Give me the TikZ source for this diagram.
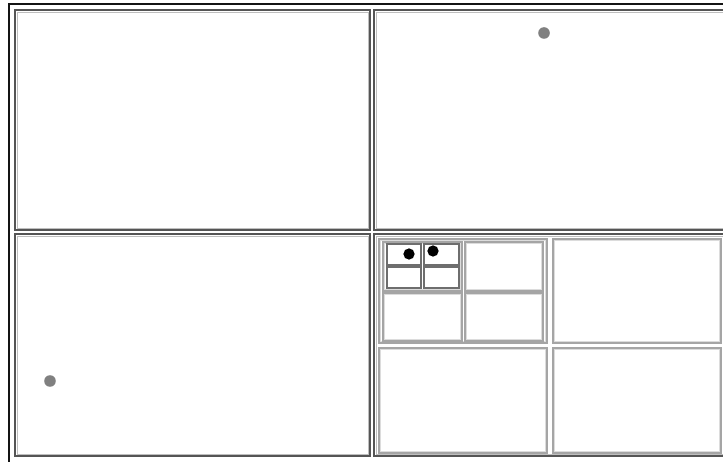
\documentclass[tikz,border=0pt]{standalone}
\usepackage{tikz}
\usepackage{xcolor}
\definecolor{frameblack}{RGB}{20, 20, 20}
\definecolor{paneedge}{RGB}{85, 85, 85}
\definecolor{panelight}{RGB}{190, 190, 190}
\definecolor{subedge}{RGB}{165, 165, 165}
\definecolor{sublight}{RGB}{220, 220, 220}
\definecolor{celledge}{RGB}{110, 110, 110}
\definecolor{dotgray}{RGB}{128, 128, 128}
\tikzset{
  frame/.style={draw=frameblack, line width=1.2pt},
  pane/.style={draw=paneedge, line width=1.1pt},
  paneinner/.style={draw=panelight, line width=0.5pt},
  subpane/.style={draw=subedge, line width=0.8pt},
  subinner/.style={draw=sublight, line width=0.5pt},
  cell/.style={draw=celledge, line width=0.7pt},
}

\begin{document}
\begin{tikzpicture}[x=0.02cm, y=-0.02cm]
        \useasboundingbox (0, 0) rectangle (723, 462);
        \clip (0, 0) rectangle (723, 462);

        % ---- OUTER FRAME ----
        \draw[frame] (9, 4) rectangle (745, 480);

        % ---- FOUR MAIN PANES ----
        \foreach \xa/\ya/\xb/\yb in {15/10/370/230, 374/10/745/230,
                                     15/234/370/456, 374/234/745/456} {
          \draw[pane] (\xa, \ya) rectangle (\xb, \yb);
          \draw[paneinner] (\xa+2, \ya+2) rectangle (\xb-2, \yb-2);
        }

        % ---- SPLIT PANE (bottom right) ----
        \foreach \xa/\ya/\xb/\yb in {379/239/547/343, 553/239/721/343,
                                     379/348/547/453, 553/348/721/453,
                                     383/242/462/291, 465/242/543/291,
                                     383/293/462/341, 465/293/543/341} {
          \draw[subpane] (\xa, \ya) rectangle (\xb, \yb);
          \draw[subinner] (\xa+1.6, \ya+1.6) rectangle (\xb-1.6, \yb-1.6);
        }

        % small cells
        \foreach \xa/\ya/\xb/\yb in {387/244/421/265, 424/244/459/265,
                                     387/267/421/288, 424/267/459/288} {
          \draw[cell] (\xa, \ya) rectangle (\xb, \yb);
        }

        % ---- DOTS ----
        \fill[dotgray] (544, 33) circle (3.3pt);
        \fill[dotgray] (50, 381) circle (3.3pt);
        \fill[black] (409, 254) circle (3.2pt);
        \fill[black] (433, 251) circle (3.2pt);
\end{tikzpicture}
\end{document}
